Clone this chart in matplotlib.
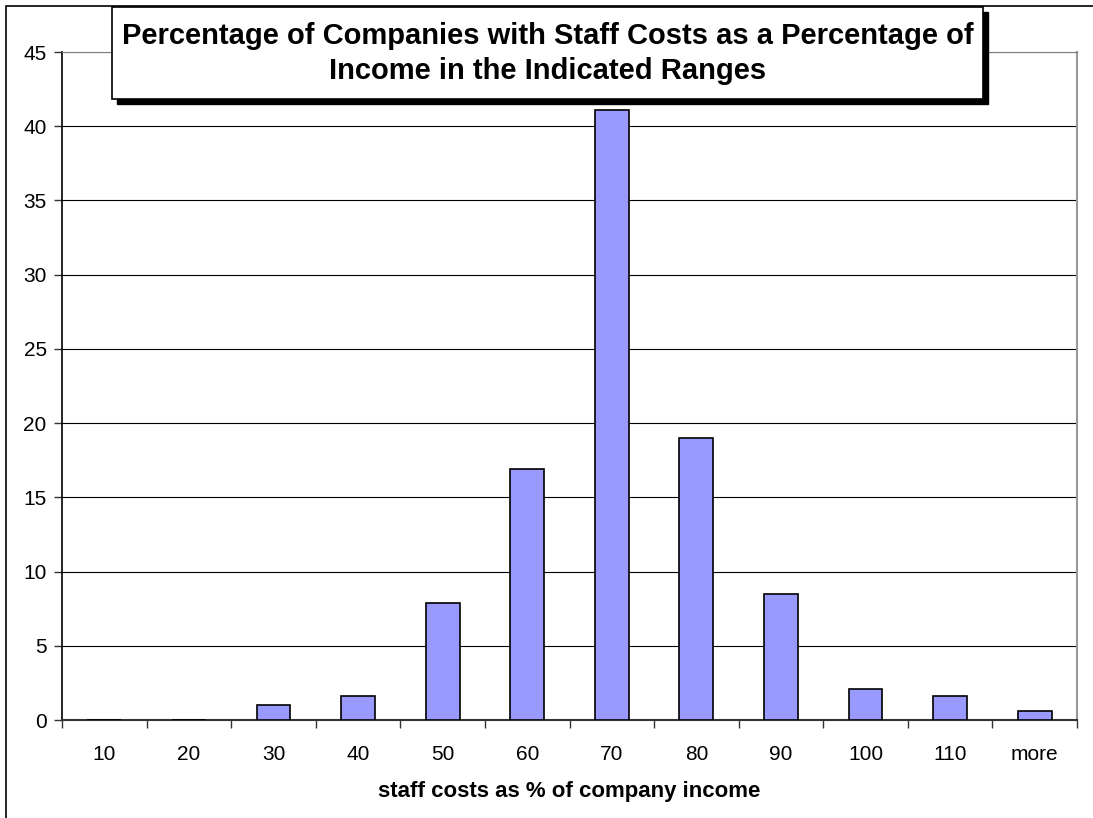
import numpy as np
import matplotlib.pyplot as plt
from matplotlib.patches import Rectangle

# data
categories = ["10", "20", "30", "40", "50", "60", "70", "80", "90", "100", "110", "more"]
percent_companies = [0, 0, 1.0, 1.6, 7.9, 16.9, 41.1, 19.0, 8.5, 2.1, 1.6, 0.6]
y_ticks = [0, 5, 10, 15, 20, 25, 30, 35, 40, 45]

title_lines = ["Percentage of Companies with Staff Costs as a Percentage of",
               "Income in the Indicated Ranges"]
x_label = "staff costs as % of company income"

W, H = 1093, 818
plt.rcParams['font.family'] = ['Liberation Sans', 'DejaVu Sans']

fig = plt.figure(figsize=(W / 100, H / 100), dpi=100)

# outer chart border (runs off the right/bottom edge in the reference)
fig.patches.append(Rectangle((6 / W, -0.05), 1.2, 1 - 6 / H + 0.05,
                             transform=fig.transFigure, fill=False,
                             edgecolor="black", linewidth=1.2, zorder=0))

ax = fig.add_axes([62 / W, 1 - 720 / H, (1077 - 62) / W, (720 - 52) / H])

x = np.arange(len(categories))
ax.bar(x, percent_companies, width=0.4, color="#9999FF", edgecolor="black",
       linewidth=1.2, zorder=3)

ax.set_xlim(-0.5, len(categories) - 0.5)
ax.set_ylim(0, 45)
ax.set_yticks(y_ticks)
ax.set_yticklabels([str(v) for v in y_ticks], fontsize=15)
ax.yaxis.grid(True, color="black", linewidth=0.8)
ax.set_axisbelow(True)

# category boundary ticks, labels centred in each category
ax.set_xticks(np.arange(-0.5, len(categories), 1))
ax.set_xticklabels([])
ax.set_xticks(x, minor=True)
ax.set_xticklabels(categories, minor=True, fontsize=15)
ax.tick_params(axis="x", which="major", length=6, width=1, color="#333333")
ax.tick_params(axis="x", which="minor", length=0, pad=18)
ax.tick_params(axis="y", length=6, width=1, color="#333333", pad=5)

ax.spines["left"].set_color("black")
ax.spines["left"].set_linewidth(1.2)
ax.spines["bottom"].set_color("#333333")
ax.spines["bottom"].set_linewidth(1.5)
ax.spines["top"].set_color("#808080")
ax.spines["right"].set_color("#999999")
ax.spines["right"].set_linewidth(1.5)

ax.set_xlabel(x_label, fontsize=16, fontweight="bold", labelpad=12)

# title box with shadow
bx0, bx1, by0, by1 = 112, 983, 7, 99
fig.patches.append(Rectangle(((bx0 + 5) / W, 1 - (by1 + 5) / H), (bx1 - bx0) / W, (by1 - by0) / H,
                             transform=fig.transFigure, facecolor="black",
                             edgecolor="black", zorder=5))
fig.patches.append(Rectangle((bx0 / W, 1 - by1 / H), (bx1 - bx0) / W, (by1 - by0) / H,
                             transform=fig.transFigure, facecolor="white",
                             edgecolor="black", linewidth=1.2, zorder=6))
for line, yc in zip(title_lines, [36, 71]):
    fig.text((bx0 + bx1) / 2 / W, 1 - yc / H, line, ha="center", va="center",
             fontsize=21, fontweight="bold", zorder=7)

fig.savefig("out.png", dpi=100)
